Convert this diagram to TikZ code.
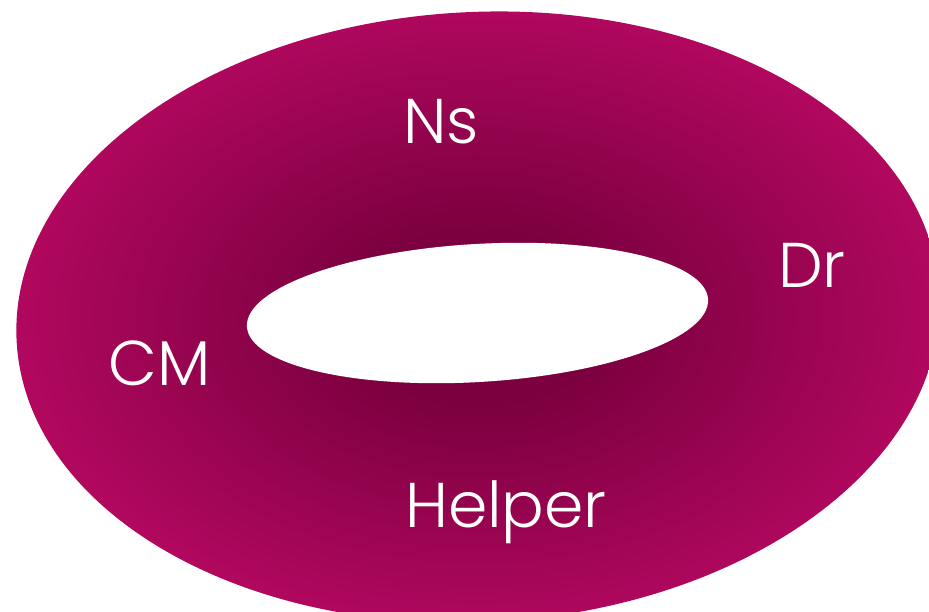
\documentclass[tikz,border=0pt]{standalone}
\usepackage{fontspec}
\setmainfont{Poppins}[UprightFont=* Light]
\usepackage{xcolor}
\usepackage{tikz}
\definecolor{donutdark}{RGB}{124,0,64}
\definecolor{donutlight}{RGB}{178,8,95}
\pgfdeclareradialshading{donutshade}{\pgfpoint{0bp}{0bp}}{color(0bp)=(donutdark); color(7bp)=(donutdark); color(25bp)=(donutlight); color(50bp)=(donutlight)}
\tikzstyle{role} = [text=white, font=\fontsize{18}{21}\selectfont, anchor=base, inner sep=0pt]

\begin{document}
\begin{tikzpicture}
            \useasboundingbox (0,0) rectangle (9.29,-6.12);
            \clip (0,0) rectangle (9.29,-6.12);
            % ring
            \shade[shading=donutshade, rotate around={3:(4.78,-3.17)}] (4.78,-3.17) ellipse (4.62cm and 3.05cm);
            \fill[white, rotate around={3.4:(4.775,-3.13)}] (4.775,-3.13) ellipse (2.31cm and 0.69cm);
            
            \node (ns) [role] at (4.41,-1.44) {Ns};
            \node (dr) [role] at (8.12,-2.87) {Dr};
            \node (cm) [role] at (1.60,-3.85) {CM};
            \node (helper) [role] at (5.06,-5.27) {Helper};
        \end{tikzpicture}
\end{document}
